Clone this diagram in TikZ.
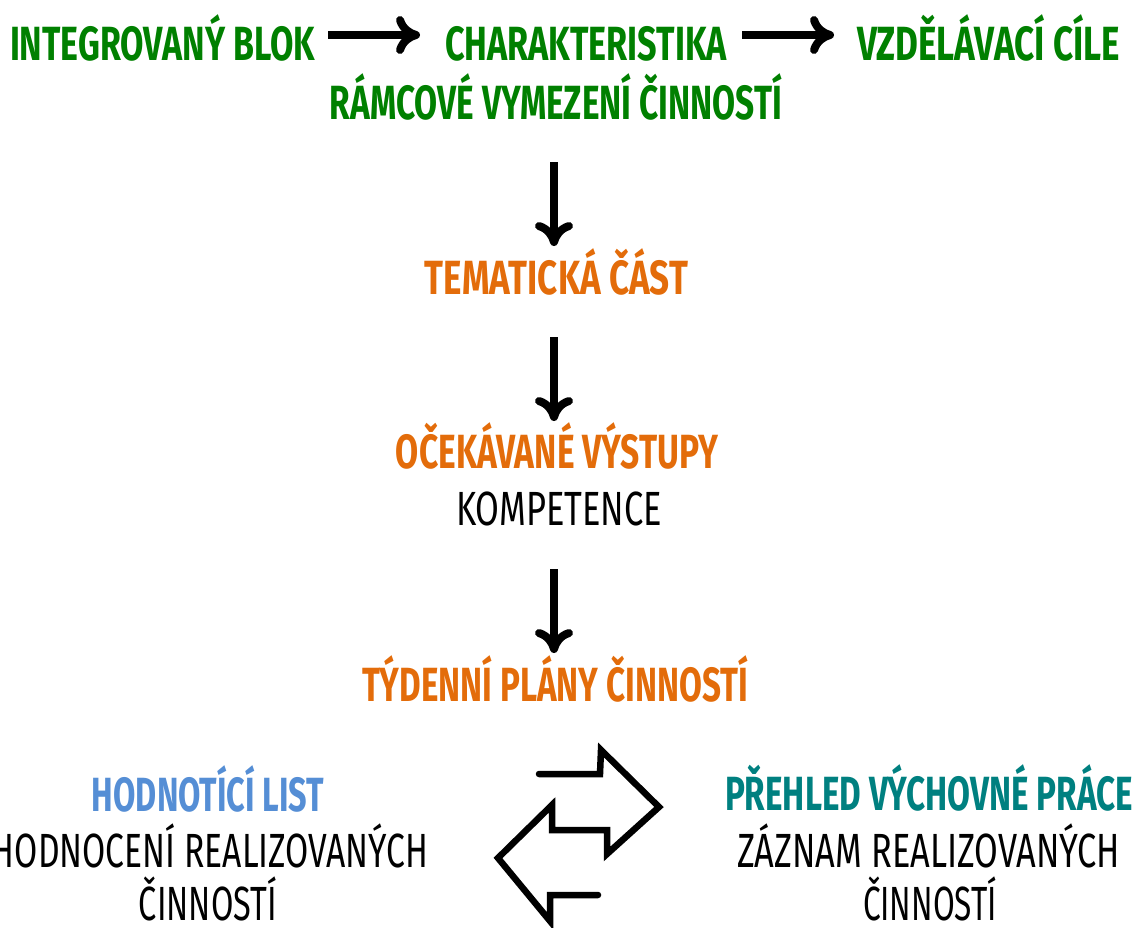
\documentclass[tikz,border=0pt]{standalone}
\usepackage{fontspec}
\setmainfont{Fira Sans}
\usetikzlibrary{arrows.meta}
\definecolor{cgreen}{RGB}{0,128,0}
\definecolor{corange}{RGB}{227,108,10}
\definecolor{cblue}{RGB}{85,142,213}
\definecolor{cteal}{RGB}{0,128,128}
\newcommand{\fitw}[2]{\resizebox{#1pt}{\height}{#2}}
\tikzset{
  lbl/.style={anchor=base, inner sep=0pt, font=\fontsize{48}{50}\selectfont},
  ttl/.style={lbl, font=\fontsize{48}{50}\selectfont\bfseries},
  flow/.style={line width=8pt, -{Computer Modern Rightarrow[length=24pt,width=38pt]}},
  swap/.style={line width=6.5pt, line cap=round, line join=miter},
}
\begin{document}
\begin{tikzpicture}[x=1pt,y=-1pt]
\useasboundingbox (0,0) rectangle (1144,927);
\node[ttl,text=cgreen] (ib) at (162.5,60) {\fitw{305}{INTEGROVANÝ BLOK}};
\node[ttl,text=cgreen] (ch) at (586,60) {\fitw{282}{CHARAKTERISTIKA}};
\node[ttl,text=cgreen] (vc) at (988.5,60) {\fitw{263}{VZDĚLÁVACÍ CÍLE}};
\node[ttl,text=cgreen] (rv) at (556,119) {\fitw{452}{RÁMCOVÉ VYMEZENÍ ČINNOSTÍ}};
\node[ttl,text=corange] (tc) at (556.5,294) {\fitw{263}{TEMATICKÁ ČÁST}};
\node[ttl,text=corange] (ov) at (557,468) {\fitw{322}{OČEKÁVANÉ VÝSTUPY}};
\node[lbl] (ko) at (559,525) {\fitw{206}{KOMPETENCE}};
\node[ttl,text=corange] (tp) at (555,701) {\fitw{386}{TÝDENNÍ PLÁNY ČINNOSTÍ}};
\node[ttl,text=cblue] (hl) at (208,811) {\fitw{232}{HODNOTÍCÍ LIST}};
\node[lbl] (hr) at (210,867) {\fitw{436}{HODNOCENÍ REALIZOVANÝCH}};
\node[lbl] (hc) at (208,920) {\fitw{138}{ČINNOSTÍ}};
\node[ttl,text=cteal] (pv) at (929,810) {\fitw{408}{PŘEHLED VÝCHOVNÉ PRÁCE}};
\node[lbl] (zr) at (928.5,867) {\fitw{383}{ZÁZNAM REALIZOVANÝCH}};
\node[lbl] (zc) at (930,920) {\fitw{134}{ČINNOSTÍ}};
\coordinate (h1s) at (328,35);  \coordinate (h1e) at (420,35);
\coordinate (h2s) at (742,35);  \coordinate (h2e) at (834,35);
\coordinate (v1s) at (554,162); \coordinate (v1e) at (554,246);
\coordinate (v2s) at (554,337); \coordinate (v2e) at (554,421);
\coordinate (v3s) at (554,569); \coordinate (v3e) at (554,653);
\draw[flow] (h1s) -- (h1e);
\draw[flow] (h2s) -- (h2e);
\draw[flow] (v1s) -- (v1e);
\draw[flow] (v2s) -- (v2e);
\draw[flow] (v3s) -- (v3e);
\coordinate (xs) at (539,774);
\coordinate (xe) at (598,895);
\draw[swap] (xs) -- (600,774) -- (601,750) -- (659,807) -- (607,854) -- (607,830)
  -- (552,830) -- (552,805) -- (498,858) -- (550,921) -- (550,895) -- (xe);
\end{tikzpicture}
\end{document}
